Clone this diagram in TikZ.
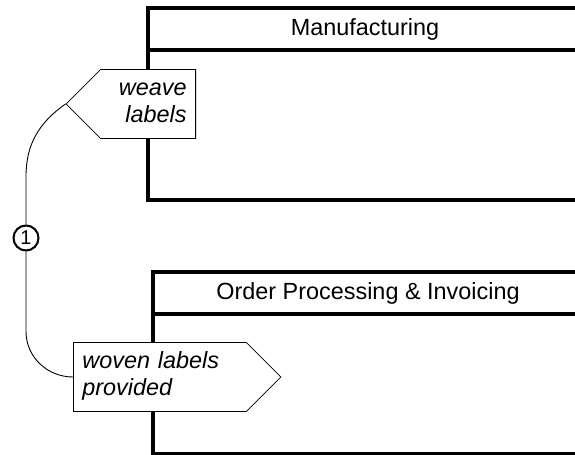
\documentclass[tikz,border=0pt]{standalone}
\usepackage{fontspec}
\setmainfont{Liberation Sans}
\usetikzlibrary{shapes.symbols}
\tikzset{
    lane-line/.style = {line width=3.5bp, line cap=rect},
    lane-title/.style = {font=\fontsize{23.5}{27}\selectfont},
    tag-box/.style = {draw, fill=white, line width=0.8bp, shape=signal, signal pointer angle=90, inner xsep=9bp, inner ysep=7bp, minimum height=69bp, font=\fontsize{23.5}{27}\selectfont\itshape},
    link-line/.style = {line width=0.9bp},
    ref-circle/.style = {circle, draw, fill=white, line width=2bp, minimum size=25bp, inner sep=0pt, font=\fontsize{20}{20}\selectfont},
}
\begin{document}
\begin{tikzpicture}[x=1bp, y=1bp]
\useasboundingbox (0,0) rectangle (575,455);
\fill[white] (0,0) rectangle (575,455);
\draw[lane-line] (585,447) -| (148,255) -- (585,255);
\draw[lane-line] (148,405) -- (585,405);
\node[lane-title] (mfg) at (365,426) {Manufacturing};
\draw[lane-line] (585,183) -| (153,-5);
\draw[lane-line] (153,1) -- (585,1);
\draw[lane-line] (153,141) -- (585,141);
\node[lane-title] (orders) at (368,162) {Order Processing \& Invoicing};
\node[tag-box, signal to=west, text width=77bp, align=right, anchor=east] (weave) at (196,351) {\strut weave\\labels\strut};
\node[tag-box, signal to=east, text width=155bp, align=left, anchor=west] (woven) at (73,78) {\strut woven labels\\provided\strut};
\node[ref-circle] (one) at (26,217) {1};
\draw[link-line] (one.north) -- ++(0,48) to[out=90, in=215] (weave.west);
\draw[link-line] (one.south) -- ++(0,-80) to[out=-90, in=180] (woven.west);
\end{tikzpicture}
\end{document}
